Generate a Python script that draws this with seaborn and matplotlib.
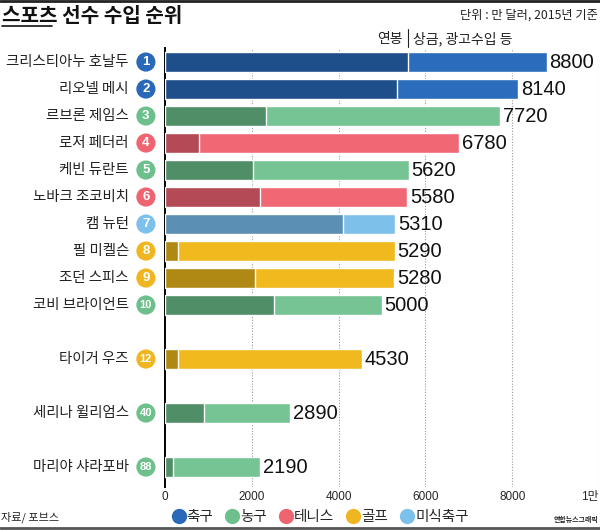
import pandas as pd
import seaborn as sns
import matplotlib.pyplot as plt
from matplotlib.lines import Line2D
from matplotlib.transforms import blended_transform_factory

# 데이터 (단위: 만 달러)
NAMES = ["크리스티아누 호날두", "리오넬 메시", "르브론 제임스", "로저 페더러", "케빈 듀란트",
         "노바크 조코비치", "캠 뉴턴", "필 미켈슨", "조던 스피스", "코비 브라이언트",
         "타이거 우즈", "세리나 윌리엄스", "마리야 샤라포바"]
RANKS = ["1", "2", "3", "4", "5", "6", "7", "8", "9", "10", "12", "40", "88"]
SPORTS = ["축구", "축구", "농구", "테니스", "농구", "테니스", "미식축구", "골프", "골프", "농구",
          "골프", "농구", "농구"]
SALARY = [5600, 5340, 2320, 780, 2020, 2180, 4110, 290, 2080, 2500, 300, 890, 190]
TOTAL = [8800, 8140, 7720, 6780, 5620, 5580, 5310, 5290, 5280, 5000, 4530, 2890, 2190]
ROW = [0, 1, 2, 3, 4, 5, 6, 7, 8, 9, 11, 13, 15]
XTICKS = [0, 2000, 4000, 6000, 8000, 10000]
XTICK_LABELS = ["0", "2000", "4000", "6000", "8000", "1만"]
LEGEND_ORDER = ["축구", "농구", "테니스", "골프", "미식축구"]

DARK = {"축구": "#1f4f8a", "농구": "#4f8e66", "테니스": "#b34a55",
        "골프": "#b08914", "미식축구": "#5b8fb3"}
LIGHT = {"축구": "#2b6cbc", "농구": "#76c493", "테니스": "#ef6874",
         "골프": "#f0b91d", "미식축구": "#7dc0ea"}
MARK = {"축구": "#2a68b8", "농구": "#6dc08b", "테니스": "#ee6470",
        "골프": "#f0b622", "미식축구": "#7cc0ec"}

KR = ["Noto Sans CJK KR", "DejaVu Sans"]
NUM = ["Liberation Sans", "Noto Sans CJK KR", "DejaVu Sans"]

sns.set_style("white")
plt.rcParams["font.family"] = KR

df = pd.DataFrame({"name": NAMES, "rank": RANKS, "sport": SPORTS,
                   "salary": SALARY, "total": TOTAL, "row": ROW})

fig = plt.figure(figsize=(6.0, 5.3), dpi=100)
ax = fig.add_axes([0.275, 1 - 487 / 530, 434 / 600, (487 - 48) / 530])

# 격자선 (점선)
for t in XTICKS[1:]:
    ax.axvline(t, color="#9a9a9a", lw=0.8, ls=(0, (1, 1.5)), zorder=0)

# 전체 수입 (밝은 색)
sns.barplot(data=df, x="total", y="row", hue="name", orient="h", native_scale=True,
            palette={n: LIGHT[s] for n, s in zip(NAMES, SPORTS)}, dodge=False,
            width=0.74, saturation=1, legend=False, ax=ax, zorder=2)
# 연봉 (어두운 색)
sns.barplot(data=df, x="salary", y="row", hue="name", orient="h", native_scale=True,
            palette={n: DARK[s] for n, s in zip(NAMES, SPORTS)}, dodge=False,
            width=0.74, saturation=1, legend=False, ax=ax, zorder=3)

ax.set_xlim(0, 10000)
ax.set_ylim(15.74, -0.52)
ax.set_xticks(XTICKS)
ax.set_xticklabels(XTICK_LABELS, family=NUM, fontsize=8.5)
ax.get_xticklabels()[-1].set_ha("right")
ax.tick_params(axis="x", length=0, pad=3)
ax.set_yticks([])
ax.set_xlabel("")
ax.set_ylabel("")
for side in ["top", "right", "bottom"]:
    ax.spines[side].set_visible(False)
ax.spines["left"].set_color("black")
ax.spines["left"].set_linewidth(1.4)

# 값 레이블
for _, r in df.iterrows():
    ax.text(r["total"] + 60, r["row"], str(r["total"]), va="center", ha="left",
            family=NUM, fontsize=14.5, color="#111111", zorder=4)

# 순위 원과 이름
tr = blended_transform_factory(ax.transAxes, ax.transData)
ax.scatter([-0.044] * len(df), df["row"], s=190, c=[MARK[s] for s in SPORTS],
           transform=tr, clip_on=False, zorder=5, linewidths=0)
for _, r in df.iterrows():
    ax.text(-0.044, r["row"], r["rank"], transform=tr, ha="center", va="center",
            color="white", fontsize=9.5 if len(r["rank"]) == 1 else 8, fontweight="bold",
            family=NUM, zorder=6)
    ax.text(-0.083, r["row"], r["name"], transform=tr, ha="right", va="center",
            fontsize=10.4, color="#222222")

# 연봉 | 상금 구분 표시
ax.plot([SALARY[0], SALARY[0]], [-0.55, -1.22], color="#222222", lw=0.8, clip_on=False)
ax.text(SALARY[0] - 130, -0.86, "연봉", ha="right", va="center", fontsize=10, color="#222222")
ax.text(SALARY[0] + 110, -0.86, "상금, 광고수입 등", ha="left", va="center", fontsize=10,
        color="#222222")

# 제목 및 주석
fig.text(2 / 600, 1 - 16 / 530, "스포츠 선수 수입 순위", fontsize=14.5, fontweight="bold",
         ha="left", va="center", color="#111111")
fig.add_artist(Line2D([2 / 600, 52 / 600], [1 - 26 / 530] * 2, color="#111111", lw=1.2))
fig.text(598 / 600, 1 - 15 / 530, "단위 : 만 달러, 2015년 기준", fontsize=8.8,
         ha="right", va="center", color="#222222")
fig.text(1 / 600, 1 - 517 / 530, "자료/ 포브스", fontsize=8, ha="left", va="center",
         color="#222222")
fig.text(598 / 600, 1 - 519 / 530, "연합뉴스그래픽", fontsize=5, fontweight="bold",
         ha="right", va="center", color="#222222")

# 테두리 선
fig.add_artist(Line2D([0, 1], [1 - 1 / 530] * 2, color="#222222", lw=2))
fig.add_artist(Line2D([0, 1], [1 - 528 / 530] * 2, color="#555555", lw=2))

# 범례
handles = [Line2D([], [], marker="o", ls="", markersize=11, markerfacecolor=MARK[s],
                  markeredgewidth=0, label=s) for s in LEGEND_ORDER]
fig.legend(handles=handles, loc="center", bbox_to_anchor=(320 / 600, 1 - 517 / 530),
           ncol=5, frameon=False, fontsize=10.5, handletextpad=0.05, columnspacing=0.8,
           handlelength=1.0, borderpad=0)

fig.savefig("out.png", dpi=100)
